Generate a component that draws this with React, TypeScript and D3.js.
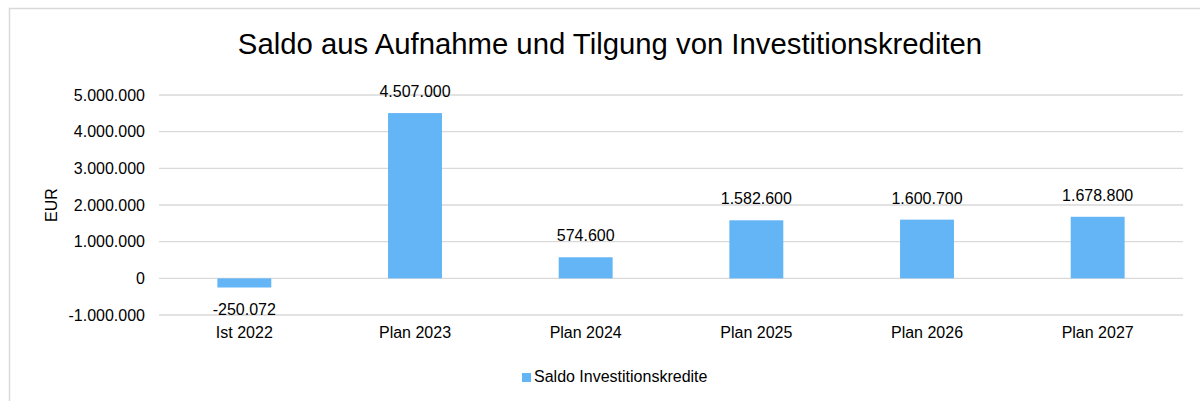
import React from "react";
import * as d3 from "d3";

const categories = ["Ist 2022", "Plan 2023", "Plan 2024", "Plan 2025", "Plan 2026", "Plan 2027"];
const values = [-250072, 4507000, 574600, 1582600, 1600700, 1678800];
const yTicks = [-1000000, 0, 1000000, 2000000, 3000000, 4000000, 5000000];
const seriesName = "Saldo Investitionskredite";
const title = "Saldo aus Aufnahme und Tilgung von Investitionskrediten";
const yLabel = "EUR";

const W = 1200;
const H = 401;
const FONT = "'Liberation Sans', Arial, sans-serif";
const BAR = "#64b5f6";
const GRID = "#d9d9d9";

const loc = d3.formatLocale({ decimal: ",", thousands: ".", grouping: [3], currency: ["", "€"], minus: "-" });
const fmt = loc.format(",d");

export default function App() {
  const x = d3
    .scaleBand<string>()
    .domain(categories)
    .range([159, 1183])
    .paddingInner(0.684)
    .paddingOuter(0.342);
  const y = d3.scaleLinear().domain([-1000000, 5000000]).range([315, 95]);

  return (
    <svg
      width={W}
      height={H}
      style={{ position: "absolute", left: 0, top: 0, background: "#fff" }}
      fontFamily={FONT}
    >
      <rect x={9.5} y={8.5} width={W + 10} height={H + 10} fill="#fff" stroke={GRID} strokeWidth={1.5} />
      <text x={610} y={54} textAnchor="middle" fontSize={29.3} fill="#000">
        {title}
      </text>
      {yTicks.map((t) => (
        <g key={t}>
          <line x1={159} x2={1183} y1={y(t)} y2={y(t)} stroke={GRID} strokeWidth={1.4} />
          <text x={145} y={y(t) + 5.5} textAnchor="end" fontSize={16} fill="#000">
            {fmt(t)}
          </text>
        </g>
      ))}
      <text
        transform={`translate(57,205) rotate(-90)`}
        textAnchor="middle"
        fontSize={16}
        fill="#000"
      >
        {yLabel}
      </text>
      {categories.map((c, i) => {
        const v = values[i];
        const x0 = x(c)!;
        const top = Math.min(y(v), y(0));
        const h = Math.abs(y(v) - y(0));
        const cx = x0 + x.bandwidth() / 2;
        return (
          <g key={c}>
            <rect x={x0} y={top} width={x.bandwidth()} height={h} fill={BAR} />
            <text
              x={cx}
              y={v >= 0 ? y(v) - 16 : y(v) + 27}
              textAnchor="middle"
              fontSize={16}
              fill="#000"
            >
              {fmt(v)}
            </text>
            <text x={cx} y={338} textAnchor="middle" fontSize={16} fill="#000">
              {c}
            </text>
          </g>
        );
      })}
      <rect x={522} y={373} width={9} height={9} fill={BAR} />
      <text x={534} y={382} fontSize={16} fill="#000">
        {seriesName}
      </text>
    </svg>
  );
}
